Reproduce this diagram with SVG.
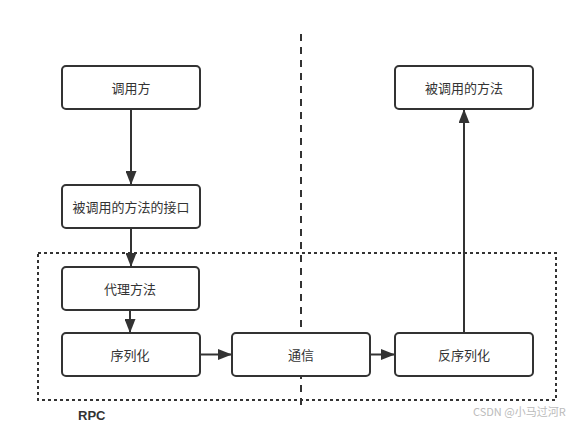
<svg xmlns="http://www.w3.org/2000/svg" width="572" height="427" viewBox="0 0 572 427">
<defs>
<style>
.box{fill:#fff;stroke:#333;stroke-width:2}
.lbl{font-family:"Microsoft YaHei","Noto Sans CJK SC",sans-serif;font-size:13px;fill:#333;text-anchor:middle;dominant-baseline:central}
.edge{stroke:#333;stroke-width:2;fill:none}
</style>
<marker id="arr" viewBox="0 0 14 11" refX="14" refY="5.5" markerWidth="14" markerHeight="11" markerUnits="userSpaceOnUse" orient="auto">
<path d="M0,0 L14,5.5 L0,11 Z" fill="#333"/>
</marker>
</defs>
<rect width="572" height="427" fill="#fff"/>
<g id="rpc-boundary">
<rect x="38" y="253" width="518" height="147" fill="none" stroke="#333" stroke-width="2" stroke-dasharray="3 3"/>
<text x="78" y="420" style="font-family:'Liberation Sans',sans-serif;font-size:13px;font-weight:bold;fill:#333">RPC</text>
</g>
<g id="divider">
<line x1="301" y1="34" x2="301" y2="406" stroke="#333" stroke-width="2" stroke-dasharray="7 6"/>
</g>
<g id="connectors">
<line class="edge" x1="131" y1="109" x2="131" y2="185" marker-end="url(#arr)"/>
<line class="edge" x1="131" y1="228" x2="131" y2="267" marker-end="url(#arr)"/>
<line class="edge" x1="130" y1="310" x2="130" y2="333" marker-end="url(#arr)"/>
<line class="edge" x1="200" y1="354.5" x2="232" y2="354.5" marker-end="url(#arr)"/>
<line class="edge" x1="370" y1="354.5" x2="395" y2="354.5" marker-end="url(#arr)"/>
<line class="edge" x1="464" y1="333" x2="464" y2="109" marker-end="url(#arr)"/>
</g>
<g id="caller">
<rect class="box" x="62" y="66" width="138" height="43" rx="4"/>
<text class="lbl" x="131" y="87.5">调用方</text>
</g>
<g id="interface">
<rect class="box" x="62" y="185" width="138" height="43" rx="4"/>
<text class="lbl" x="131" y="206.5">被调用的方法的接口</text>
</g>
<g id="proxy">
<rect class="box" x="62" y="267" width="137" height="43" rx="4"/>
<text class="lbl" x="130" y="288.5">代理方法</text>
</g>
<g id="serialize">
<rect class="box" x="62" y="333" width="138" height="43" rx="4"/>
<text class="lbl" x="130" y="354.5">序列化</text>
</g>
<g id="transport">
<rect class="box" x="232" y="333" width="138" height="43" rx="4"/>
<text class="lbl" x="301" y="354.5">通信</text>
</g>
<g id="deserialize">
<rect class="box" x="395" y="333" width="138" height="43" rx="4"/>
<text class="lbl" x="464" y="354.5">反序列化</text>
</g>
<g id="callee">
<rect class="box" x="395" y="66" width="138" height="43" rx="4"/>
<text class="lbl" x="464" y="87.5">被调用的方法</text>
</g>
<text x="473" y="416" style="font-family:'Noto Sans CJK SC',sans-serif;font-size:11px;fill:#bbb">CSDN @小马过河R</text>
</svg>
